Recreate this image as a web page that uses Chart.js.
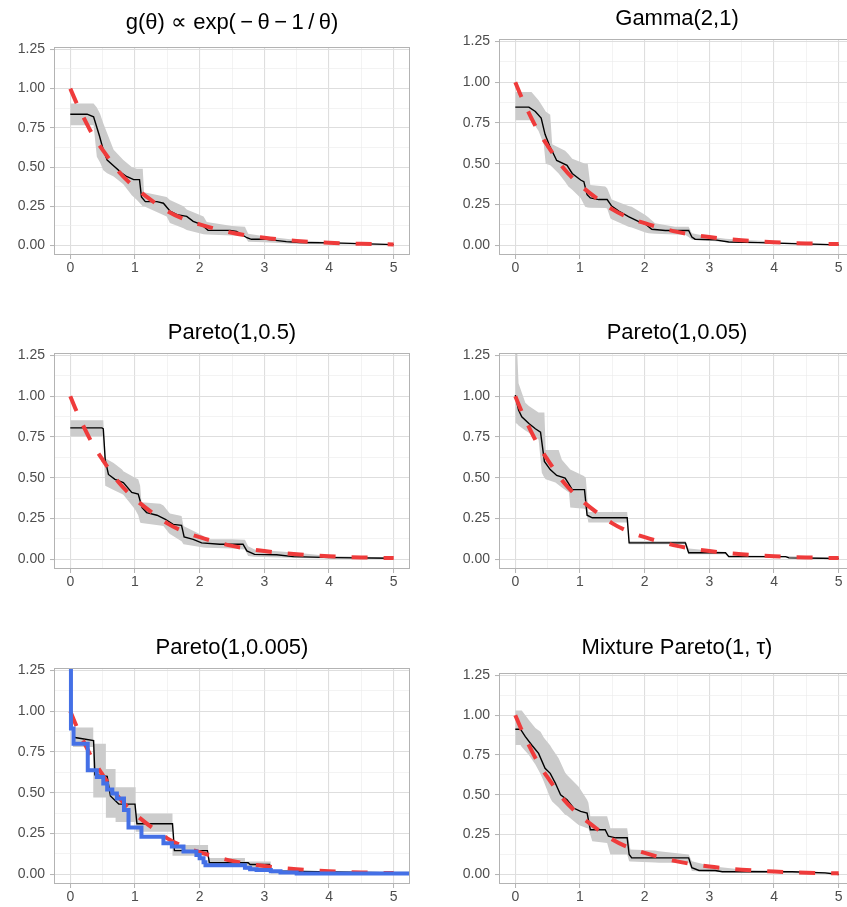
<!DOCTYPE html>
<html lang="en">
<head>
  <meta charset="UTF-8" />
  <title>Estimated survival curves</title>
  <script src="https://cdn.jsdelivr.net/npm/chart.js"></script>
  <style>
    html, body {
      margin: 0;
      padding: 0;
      background: #fff;
      overflow: hidden;
    }
    #wrap {
      position: relative;
      width: 847px;
      height: 907px;
      overflow: hidden;
    }
    #wrap canvas {
      position: absolute;
    }
  </style>
</head>
<body>
  <div id="wrap"></div>

  <script>
    // ---- data ----
    const titles = [
      'g(\u03b8) \u221d exp(\u2009\u2212\u2009\u03b8\u2009\u2212\u20091\u2009/\u2009\u03b8)',
      'Gamma(2,1)',
      'Pareto(1,0.5)',
      'Pareto(1,0.05)',
      'Pareto(1,0.005)',
      'Mixture Pareto(1, \u03c4)'
    ];
    const yTickLabels = ['0.00', '0.25', '0.50', '0.75', '1.00', '1.25'];
    const xTickLabels = ['0', '1', '2', '3', '4', '5'];

    // red dashed reference curve (same in every panel)
    const trueX = [0, 0.1, 0.2, 0.3, 0.4, 0.5, 0.75, 1, 1.25, 1.5, 1.75, 2, 2.5, 3, 3.5, 4, 4.5, 5];
    const trueY = [1.0, 0.905, 0.82, 0.74, 0.67, 0.61, 0.47, 0.37, 0.29, 0.22, 0.17, 0.135, 0.082, 0.05, 0.03, 0.018, 0.011, 0.007];

    // g(theta)
    const p1LineX = [0, 0.26, 0.36, 0.45, 0.51, 0.57, 0.69, 0.80, 0.87, 0.98, 1.07, 1.10, 1.16, 1.34, 1.44, 1.54, 1.65, 1.80, 1.90, 2.03, 2.13, 2.47, 2.57, 2.73, 2.80, 3.04, 3.14, 3.34, 3.55, 4.06, 5.0];
    const p1LineY = [0.837, 0.837, 0.82, 0.70, 0.61, 0.545, 0.50, 0.46, 0.44, 0.42, 0.42, 0.31, 0.28, 0.28, 0.27, 0.22, 0.197, 0.186, 0.154, 0.133, 0.097, 0.097, 0.09, 0.05, 0.04, 0.04, 0.035, 0.025, 0.02, 0.017, 0.006];
    const p1BandX = [0, 0.36, 0.41, 0.46, 0.51, 0.57, 0.67, 0.82, 0.95, 1.03, 1.12, 1.14, 1.49, 1.54, 1.75, 1.80, 2.06, 2.11, 2.50, 2.70, 2.75, 3.0, 3.5, 4.0, 5.0];
    const p1BandHi = [0.905, 0.905, 0.88, 0.84, 0.78, 0.715, 0.61, 0.545, 0.50, 0.49, 0.49, 0.34, 0.31, 0.29, 0.25, 0.23, 0.186, 0.15, 0.125, 0.12, 0.075, 0.06, 0.035, 0.022, 0.01];
    const p1BandLo = [0.767, 0.767, 0.566, 0.53, 0.48, 0.46, 0.44, 0.39, 0.32, 0.29, 0.25, 0.25, 0.186, 0.144, 0.11, 0.10, 0.072, 0.07, 0.065, 0.06, 0.025, 0.022, 0.01, 0.008, 0.003];

    // Gamma(2,1)
    const p2LineX = [0, 0.21, 0.31, 0.40, 0.46, 0.53, 0.64, 0.80, 0.88, 1.01, 1.06, 1.11, 1.16, 1.29, 1.42, 1.49, 1.60, 1.75, 1.91, 2.01, 2.11, 2.32, 2.68, 2.73, 2.78, 3.09, 3.30, 3.76, 4.28, 5.0];
    const p2LineY = [0.847, 0.847, 0.82, 0.78, 0.68, 0.61, 0.52, 0.49, 0.44, 0.40, 0.39, 0.31, 0.29, 0.28, 0.28, 0.24, 0.21, 0.175, 0.145, 0.13, 0.098, 0.09, 0.09, 0.05, 0.037, 0.033, 0.02, 0.016, 0.01, 0.002];
    const p2BandX = [0, 0.25, 0.36, 0.44, 0.47, 0.54, 0.57, 0.67, 0.77, 0.82, 0.88, 1.01, 1.08, 1.12, 1.16, 1.39, 1.42, 1.47, 1.49, 1.75, 1.80, 2.01, 2.06, 2.16, 2.47, 2.63, 2.68, 2.73, 2.99, 3.25, 3.5, 4.28, 5.0];
    const p2BandHi = [0.94, 0.94, 0.89, 0.84, 0.82, 0.80, 0.62, 0.60, 0.58, 0.56, 0.53, 0.51, 0.50, 0.50, 0.37, 0.36, 0.35, 0.30, 0.28, 0.24, 0.236, 0.185, 0.17, 0.134, 0.114, 0.114, 0.114, 0.073, 0.053, 0.04, 0.033, 0.016, 0.006];
    const p2BandLo = [0.766, 0.766, 0.70, 0.62, 0.50, 0.49, 0.48, 0.44, 0.39, 0.36, 0.34, 0.29, 0.236, 0.232, 0.23, 0.228, 0.226, 0.165, 0.16, 0.114, 0.108, 0.078, 0.073, 0.07, 0.066, 0.063, 0.05, 0.033, 0.028, 0.02, 0.016, 0.008, 0.002];

    // Pareto(1,0.5)
    const p3LineX = [0, 0.49, 0.51, 0.54, 0.59, 0.69, 0.82, 0.95, 1.05, 1.11, 1.18, 1.34, 1.47, 1.59, 1.72, 1.76, 1.90, 2.03, 2.31, 2.67, 2.73, 2.85, 3.19, 3.45, 4.06, 4.99];
    const p3LineY = [0.806, 0.806, 0.80, 0.61, 0.52, 0.49, 0.47, 0.41, 0.40, 0.316, 0.286, 0.27, 0.245, 0.214, 0.208, 0.137, 0.122, 0.10, 0.092, 0.092, 0.051, 0.03, 0.027, 0.016, 0.01, 0.006];
    const p3BandX = [0, 0.51, 0.54, 0.67, 0.80, 0.82, 1.0, 1.05, 1.08, 1.10, 1.39, 1.44, 1.52, 1.54, 1.72, 1.75, 2.06, 2.11, 2.5, 2.7, 2.75, 2.85, 3.5, 4.0, 5.0];
    const p3BandHi = [0.853, 0.853, 0.62, 0.59, 0.55, 0.54, 0.50, 0.49, 0.45, 0.35, 0.34, 0.33, 0.29, 0.28, 0.265, 0.204, 0.143, 0.122, 0.122, 0.12, 0.08, 0.06, 0.04, 0.02, 0.01];
    const p3BandLo = [0.755, 0.755, 0.45, 0.425, 0.40, 0.395, 0.306, 0.27, 0.225, 0.222, 0.207, 0.204, 0.163, 0.155, 0.11, 0.092, 0.072, 0.07, 0.066, 0.06, 0.02, 0.015, 0.008, 0.005, 0.003];

    // Pareto(1,0.05)
    const p4LineX = [0, 0.05, 0.10, 0.21, 0.31, 0.39, 0.45, 0.54, 0.64, 0.77, 0.82, 0.88, 1.07, 1.11, 1.19, 1.73, 1.76, 2.63, 2.68, 3.25, 3.30, 4.18, 4.23, 5.0];
    const p4LineY = [1.006, 0.915, 0.874, 0.833, 0.80, 0.78, 0.60, 0.55, 0.514, 0.498, 0.467, 0.427, 0.427, 0.27, 0.254, 0.254, 0.10, 0.10, 0.04, 0.04, 0.016, 0.016, 0.008, 0.004];
    const p4BandX = [0, 0.03, 0.05, 0.155, 0.21, 0.36, 0.41, 0.45, 0.47, 0.62, 0.67, 0.72, 0.83, 0.85, 1.06, 1.09, 1.13, 1.73, 1.76, 2.63, 2.68, 3.25, 3.3, 4.2, 5.0];
    const p4BandHi = [1.3, 1.266, 1.08, 0.96, 0.94, 0.90, 0.90, 0.90, 0.67, 0.67, 0.67, 0.61, 0.56, 0.55, 0.51, 0.50, 0.29, 0.29, 0.112, 0.112, 0.065, 0.045, 0.025, 0.02, 0.008];
    const p4BandLo = [0.837, 0.83, 0.82, 0.79, 0.776, 0.735, 0.53, 0.50, 0.49, 0.47, 0.455, 0.44, 0.41, 0.317, 0.31, 0.306, 0.225, 0.225, 0.092, 0.092, 0.03, 0.03, 0.012, 0.01, 0.003];

    // Pareto(1,0.005), band and blue line are step functions
    const p5LineX = [0, 0.05, 0.36, 0.38, 0.57, 0.62, 0.75, 1.0, 1.03, 1.58, 1.61, 2.12, 2.15, 2.75, 2.78, 3.08, 3.11, 4.8, 5.25];
    const p5LineY = [1.0, 0.84, 0.82, 0.61, 0.60, 0.48, 0.43, 0.43, 0.31, 0.31, 0.145, 0.145, 0.07, 0.07, 0.06, 0.06, 0.02, 0.01, 0.005];
    const p5BandX = [0.04, 0.355, 0.55, 0.70, 1.01, 1.58, 2.13, 2.70, 3.10, 5.25];
    const p5BandHi = [0.90, 0.80, 0.645, 0.533, 0.373, 0.18, 0.10, 0.078, 0.015, 0.01];
    const p5BandLo = [0.78, 0.47, 0.347, 0.32, 0.26, 0.114, 0.053, 0.027, 0.005, 0.003];
    const p5BlueX = [0, 0.01, 0.05, 0.27, 0.41, 0.51, 0.57, 0.65, 0.72, 0.83, 0.90, 1.10, 1.44, 1.57, 1.75, 1.95, 2.00, 2.06, 2.09, 2.70, 2.78, 2.88, 3.10, 3.25, 3.50, 5.25];
    const p5BlueY = [1.30, 0.894, 0.80, 0.638, 0.597, 0.556, 0.52, 0.495, 0.464, 0.394, 0.286, 0.23, 0.19, 0.17, 0.14, 0.118, 0.098, 0.073, 0.055, 0.04, 0.03, 0.026, 0.018, 0.01, 0.004, 0.004];

    // Mixture Pareto(1, tau)
    const p6LineX = [0, 0.08, 0.155, 0.26, 0.36, 0.46, 0.54, 0.62, 0.70, 0.80, 0.90, 1.01, 1.11, 1.16, 1.39, 1.44, 1.55, 1.73, 1.76, 1.80, 2.68, 2.73, 2.84, 3.09, 3.20, 4.28, 4.79, 5.0];
    const p6LineY = [0.912, 0.912, 0.865, 0.81, 0.76, 0.667, 0.635, 0.573, 0.50, 0.469, 0.417, 0.396, 0.385, 0.281, 0.281, 0.24, 0.23, 0.23, 0.125, 0.104, 0.104, 0.042, 0.025, 0.025, 0.017, 0.017, 0.01, 0.0];
    const p6BandX = [0, 0.08, 0.1, 0.21, 0.31, 0.39, 0.44, 0.54, 0.57, 0.67, 0.77, 0.80, 0.95, 0.98, 1.11, 1.13, 1.16, 1.19, 1.42, 1.47, 1.73, 1.76, 1.78, 2.16, 2.22, 2.68, 2.73, 3.04, 3.5, 3.76, 4.28, 5.0];
    const p6BandHi = [1.03, 1.03, 1.03, 0.97, 0.92, 0.896, 0.86, 0.81, 0.79, 0.73, 0.64, 0.625, 0.5625, 0.55, 0.469, 0.45, 0.365, 0.365, 0.365, 0.29, 0.29, 0.2, 0.156, 0.15, 0.145, 0.125, 0.083, 0.052, 0.031, 0.027, 0.021, 0.01];
    const p6BandLo = [0.8125, 0.8125, 0.80, 0.75, 0.69, 0.63, 0.583, 0.48, 0.458, 0.42, 0.375, 0.37, 0.32, 0.31, 0.29, 0.29, 0.25, 0.208, 0.198, 0.125, 0.125, 0.083, 0.082, 0.075, 0.073, 0.073, 0.021, 0.015, 0.012, 0.01, 0.008, 0.0];

    // ---- look ----
    const FONT = "'Liberation Sans', Arial, Helvetica, sans-serif";
    const Y_AXIS_W = 44, X_AXIS_H = 26, PAD_R = 2, PLOT_W = 356, TITLE_SIZE = 22;
    const GRID_MAJOR = '#DEDEDE', GRID_MINOR = '#EBEBEB', BORDER = '#B3B3B3';
    const BAND = '#CCCCCC', RED = '#EF3B3B', BLUE = '#4470E6';

    function pts(xs, ys) {
      return xs.map((x, i) => ({ x: x, y: ys[i] }));
    }

    function isMultiple(v, step) {
      return Math.abs(v / step - Math.round(v / step)) < 1e-6;
    }

    // draws the grey frame round the panel
    const panelBox = {
      id: 'panelBox',
      afterDatasetsDraw(chart) {
        const a = chart.chartArea;
        const ctx = chart.ctx;
        ctx.save();
        ctx.strokeStyle = BORDER;
        ctx.lineWidth = 1;
        ctx.strokeRect(Math.round(a.left) + 0.5, Math.round(a.top) + 0.5,
          Math.round(a.right) - Math.round(a.left) - 1, Math.round(a.bottom) - Math.round(a.top) - 1);
        ctx.restore();
      }
    };

    function panel(p) {
      const lh = TITLE_SIZE * 1.2;
      const padTop = 4;
      const top = Math.round(p.titleMid - padTop - lh / 2);
      const padBottom = p.plotTop - top - padTop - lh;
      const canvas = document.createElement('canvas');
      canvas.width = Y_AXIS_W + PLOT_W + PAD_R;
      canvas.height = p.plotBottom - top + X_AXIS_H;
      canvas.style.left = (p.plotLeft - Y_AXIS_W) + 'px';
      canvas.style.top = top + 'px';
      document.getElementById('wrap').appendChild(canvas);

      const datasets = [
        { data: pts(p.bandX, p.bandHi), fill: '+1', backgroundColor: BAND, borderColor: 'rgba(0,0,0,0)',
          borderWidth: 0, stepped: !!p.steppedBand, order: 4 },
        { data: pts(p.bandX, p.bandLo), fill: false, borderColor: 'rgba(0,0,0,0)',
          borderWidth: 0, stepped: !!p.steppedBand, order: 5 },
        { data: pts(p.lineX, p.lineY), borderColor: '#000', borderWidth: 1.4, order: 2 },
        { data: pts(trueX, trueY), borderColor: RED, borderWidth: 4, borderDash: [16, 16],
          cubicInterpolationMode: 'monotone', order: 1 }
      ];
      if (p.blueX) {
        datasets.push({ data: pts(p.blueX, p.blueY), borderColor: BLUE, borderWidth: 4,
          stepped: true, order: 0 });
      }

      new Chart(canvas, {
        type: 'line',
        data: { datasets: datasets },
        options: {
          responsive: false,
          animation: false,
          devicePixelRatio: 1,
          events: [],
          layout: { padding: { right: PAD_R } },
          elements: { point: { radius: 0 }, line: { tension: 0 } },
          datasets: { line: { clip: 0, pointRadius: 0 } },
          plugins: {
            legend: { display: false },
            tooltip: { enabled: false },
            title: {
              display: true,
              text: p.title,
              fullSize: false,
              color: '#000',
              font: { family: FONT, size: TITLE_SIZE, weight: 'normal', lineHeight: 1.2 },
              padding: { top: padTop, bottom: padBottom }
            }
          },
          scales: {
            x: {
              type: 'linear',
              // slightly off -0.25/5.25 so the ticks start from 0, not from min
              min: -0.252,
              max: 5.252,
              afterFit(scale) { scale.height = X_AXIS_H; },
              border: { display: false },
              grid: {
                color: c => (c.tick && isMultiple(c.tick.value, 1)) ? GRID_MAJOR : GRID_MINOR,
                lineWidth: c => (c.tick && isMultiple(c.tick.value, 1)) ? 1.1 : 0.6,
                tickColor: c => (c.tick && isMultiple(c.tick.value, 1)) ? BORDER : 'rgba(0,0,0,0)',
                tickWidth: 1,
                tickLength: 4
              },
              ticks: {
                stepSize: 0.5,
                includeBounds: false,
                autoSkip: false,
                maxRotation: 0,
                padding: 1,
                color: '#4D4D4D',
                font: { family: FONT, size: 14 },
                callback: v => isMultiple(v, 1) ? xTickLabels[Math.round(v)] : ''
              }
            },
            y: {
              type: 'linear',
              min: -0.06,
              max: 1.265,
              afterFit(scale) { scale.width = Y_AXIS_W; },
              border: { display: false },
              grid: {
                color: c => (c.tick && isMultiple(c.tick.value, 0.25)) ? GRID_MAJOR : GRID_MINOR,
                lineWidth: c => (c.tick && isMultiple(c.tick.value, 0.25)) ? 1.1 : 0.6,
                tickColor: c => (c.tick && isMultiple(c.tick.value, 0.25)) ? BORDER : 'rgba(0,0,0,0)',
                tickWidth: 1,
                tickLength: 4
              },
              ticks: {
                stepSize: 0.125,
                includeBounds: false,
                autoSkip: false,
                padding: 5,
                color: '#4D4D4D',
                font: { family: FONT, size: 14 },
                callback: v => isMultiple(v, 0.25) ? yTickLabels[Math.round(v / 0.25)] : ''
              }
            }
          }
        },
        plugins: [panelBox]
      });
    }

    panel({ title: titles[0], plotLeft: 54, plotTop: 47, plotBottom: 255, titleMid: 23,
      lineX: p1LineX, lineY: p1LineY, bandX: p1BandX, bandHi: p1BandHi, bandLo: p1BandLo });
    panel({ title: titles[1], plotLeft: 499, plotTop: 39, plotBottom: 255, titleMid: 19,
      lineX: p2LineX, lineY: p2LineY, bandX: p2BandX, bandHi: p2BandHi, bandLo: p2BandLo });
    panel({ title: titles[2], plotLeft: 54, plotTop: 353, plotBottom: 569, titleMid: 333,
      lineX: p3LineX, lineY: p3LineY, bandX: p3BandX, bandHi: p3BandHi, bandLo: p3BandLo });
    panel({ title: titles[3], plotLeft: 499, plotTop: 353, plotBottom: 569, titleMid: 333,
      lineX: p4LineX, lineY: p4LineY, bandX: p4BandX, bandHi: p4BandHi, bandLo: p4BandLo });
    panel({ title: titles[4], plotLeft: 54, plotTop: 668, plotBottom: 884, titleMid: 648,
      lineX: p5LineX, lineY: p5LineY, bandX: p5BandX, bandHi: p5BandHi, bandLo: p5BandLo,
      steppedBand: true, blueX: p5BlueX, blueY: p5BlueY });
    panel({ title: titles[5], plotLeft: 499, plotTop: 673, plotBottom: 884, titleMid: 648,
      lineX: p6LineX, lineY: p6LineY, bandX: p6BandX, bandHi: p6BandHi, bandLo: p6BandLo });
  </script>
</body>
</html>
